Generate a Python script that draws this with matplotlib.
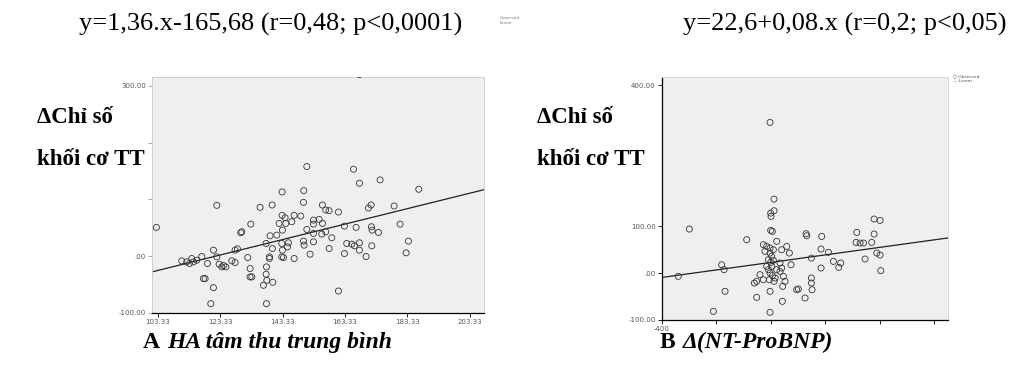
import matplotlib.pyplot as plt

plt.rcParams['font.family'] = ['Liberation Serif', 'DejaVu Serif']

# Panel A: mean systolic BP vs change in LV mass index
sbp = [167.98, 151.11, 166.06, 167.98, 174.61, 187.00, 143.20, 150.14, 122.26, 136.15,
       140.00, 150.04, 156.12, 157.19, 158.26, 161.25, 170.87, 171.72, 179.10, 143.20,
       144.16, 147.05, 149.18, 146.30, 144.37, 142.24, 143.31, 133.15, 130.27, 129.95,
       153.24, 155.06, 156.12, 153.24, 151.11, 153.24, 155.92, 157.19, 159.12, 141.49,
       139.35, 163.18, 166.92, 171.83, 172.04, 174.07, 181.02, 183.69, 182.94, 163.92,
       165.53, 166.38, 167.98, 167.98, 170.12, 171.94, 163.18, 158.26, 150.04, 150.25,
       153.24, 152.17, 147.05, 143.09, 145.23, 144.91, 143.31, 143.09, 143.63, 140.10,
       139.14, 138.07, 139.14, 132.19, 128.88, 128.13, 127.07, 128.13, 121.19, 122.26,
       123.01, 123.86, 124.40, 125.14, 117.45, 115.85, 114.24, 113.50, 112.64, 111.04,
       114.78, 119.27, 132.94, 132.94, 133.48, 138.18, 138.07, 138.29, 140.21, 137.22,
       117.98, 118.52, 121.19, 120.34, 138.18, 161.25, 102.90]
dlvmi = [319.8, 157.8, 153.1, 128.4, 134.3, 117.8, 113.1, 115.4, 89.5, 86.0,
         90.1, 94.8, 90.1, 81.3, 80.1, 77.7, 84.8, 90.1, 88.3, 71.9,
         67.7, 71.9, 70.7, 60.7, 57.7, 57.7, 45.9, 56.5, 43.0, 41.2,
         63.6, 64.8, 57.7, 56.5, 47.1, 40.0, 38.9, 43.0, 32.4, 37.1,
         35.9, 53.0, 50.6, 51.8, 45.9, 41.8, 56.5, 26.5, 5.9, 22.4,
         21.2, 18.3, 23.6, 10.6, -0.6, 18.3, 4.7, 13.5, 26.5, 19.4,
         25.3, 3.5, -4.1, 22.4, 23.6, 16.5, 10.6, -1.2, -2.4, 13.5,
         -1.2, 22.4, -4.1, -2.4, 13.0, 10.6, -8.2, -11.2, 10.6, -1.2,
         -14.1, -18.8, -16.5, -18.8, -0.6, -7.1, -4.1, -12.9, -10.0, -8.2,
         -10.0, -12.9, -21.8, -36.5, -36.5, -18.8, -31.8, -42.4, -45.9, -51.2,
         -39.5, -39.5, -55.4, -83.6, -83.6, -61.3, 50.6]

# Panel B: change in NT-proBNP vs change in LV mass index
dbnp = [-3.0, 11.8, 11.8, -0.4, 0.8, -299.5, -0.4, 5.7, -88.7, -27.4,
        -15.2, -2.9, 9.4, 21.6, -2.9, 3.3, -9.1, -0.4, 3.3, -9.1,
        -2.9, 5.7, -5.4, 11.8, 15.9, 33.9, 40.0, 46.1, 33.9, 52.3,
        58.4, 40.0, 68.2, 74.3, -39.7, -27.4, -51.9, -60.5, -2.9, -51.9,
        42.5, -2.9, -211.2, -168.3, -180.6, -171.8, -339.9, 129.5, 131.9, 187.1,
        184.6, 211.6, 149.1, 184.6, 230.0, 249.6, 256.9, 149.1, 149.1, 151.5,
        95.1, 101.3, 125.8, 315.8, 313.3, 328.0, 340.3, 370.9, 379.5, 401.5,
        379.5, 389.3, 401.5, 346.4, 404.0, 43.7, -15.2, 9.4, 21.6, -21.3]
dlvmi_b = [320.5, 157.4, 132.6, 127.6, 120.6, 93.6, 90.8, 88.6, 70.9, 60.3,
           56.7, 53.2, 49.6, 67.4, 42.5, 35.5, 28.4, 22.7, 14.2, 7.1,
           0.0, -5.7, -14.2, -17.7, -10.6, 21.3, 10.6, -7.1, 3.5, -17.7,
           56.7, 49.6, 42.5, 17.7, -3.5, -14.2, -17.7, -21.3, -39.0, -51.8,
           -60.3, -83.7, -81.6, -39.0, 17.7, 7.1, -7.1, 83.7, 79.4, 78.0,
           51.1, 44.0, 31.9, 10.6, 24.8, 12.1, 21.3, -10.6, -21.3, -35.5,
           -35.5, -34.0, -53.2, 86.5, 65.2, 63.8, 63.8, 65.2, 114.9, 112.0,
           83.0, 42.5, 38.3, 29.8, 5.0, -28.4, 14.2, 27.0, 7.1, 46.1]

# regression lines from the fitted equations
a_slope, a_icpt = 1.36, -165.68
b_slope, b_icpt = 0.08, 22.6

a_xticks = [103.33, 123.33, 143.33, 163.33, 183.33, 203.33]
a_xlabels = ['103.33', '123.33', '143.33', '163.33', '183.33', '203.33']
a_yticks = [-100, 0, 100, 200, 300]
a_ylabels = ['-100.00', '.00', '', '', '300.00']
b_xticks = [-400, -200, 0, 200, 400, 600]
b_xlabels = ['-400', '', '', '', '', '']
b_yticks = [-100, 0, 100, 400]
b_ylabels = ['-100.00', '.00', '100.00', '400.00']

fig = plt.figure(figsize=(10.10, 3.65), dpi=100)
bg = '#efefef'
tick_font = dict(fontsize=5, color='#555555', family='DejaVu Sans')


def panel(ax, x, y, slope, icpt, xlim, ylim):
    ax.set_facecolor(bg)
    ax.scatter(x, y, s=19, facecolors='none', edgecolors='#333333', linewidths=0.6, zorder=3)
    ax.set_xlim(*xlim)
    ax.set_ylim(*ylim)
    ax.plot(list(xlim), [slope * xlim[0] + icpt, slope * xlim[1] + icpt],
            color='#222222', lw=0.9, zorder=2)
    ax.tick_params(length=3, width=0.6, pad=1.5)


axA = fig.add_axes([0.1505, 0.1425, 0.3287, 0.6474])
panel(axA, sbp, dlvmi, a_slope, a_icpt, (101.5, 207.9), (-100, 316))
axA.set_xticks(a_xticks)
axA.set_xticklabels(a_xlabels, **tick_font)
axA.set_yticks(a_yticks)
axA.set_yticklabels(a_ylabels, **tick_font)
for s in ['top', 'right', 'left']:
    axA.spines[s].set_color('#cfcfcf')
    axA.spines[s].set_linewidth(0.7)
axA.spines['bottom'].set_color('black')
axA.spines['bottom'].set_linewidth(0.9)
axA.tick_params(axis='y', color='#999999')

axB = fig.add_axes([0.6554, 0.1233, 0.2832, 0.6666])
panel(axB, dbnp, dlvmi_b, b_slope, b_icpt, (-400, 651), (-100, 418))
axB.set_xticks(b_xticks)
axB.set_xticklabels(b_xlabels, **tick_font)
axB.set_yticks(b_yticks)
axB.set_yticklabels(b_ylabels, **tick_font)
for s in ['top', 'right']:
    axB.spines[s].set_color('#d6d6d6')
    axB.spines[s].set_linewidth(0.7)
for s in ['left', 'bottom']:
    axB.spines[s].set_color('black')
    axB.spines[s].set_linewidth(0.9)

# regression equations above each panel
fig.text(0.0782, 0.934, 'y=1,36.x-165,68 (r=0,48; p<0,0001)', fontsize=19, va='center')
fig.text(0.676, 0.934, 'y=22,6+0,08.x (r=0,2; p<0,05)', fontsize=19, va='center')

# faint legend remnants
fig.text(0.495, 0.955, 'Observed\nLinear', fontsize=3, color='#777777', va='top', family='DejaVu Sans')
fig.text(0.944, 0.785, '○ Observed\n— Linear', fontsize=3.2, color='#555555',
         va='center', family='DejaVu Sans', linespacing=1.1)

# y-axis titles, two lines each
ylab = dict(fontsize=16.5, fontweight='bold', va='center')
for x0 in (0.037, 0.532):
    fig.text(x0, 0.677, 'ΔChỉ số', **ylab)
    fig.text(x0, 0.562, 'khối cơ TT', **ylab)

# panel captions
cap = dict(fontsize=17, fontweight='bold', va='center')
fig.text(0.1415, 0.063, 'A', **cap)
fig.text(0.166, 0.063, 'HA tâm thu trung bình', style='italic', **cap)
fig.text(0.653, 0.063, 'B', **cap)
fig.text(0.676, 0.063, 'Δ(NT-ProBNP)', style='italic', **cap)

plt.savefig('out.png', dpi=100)
